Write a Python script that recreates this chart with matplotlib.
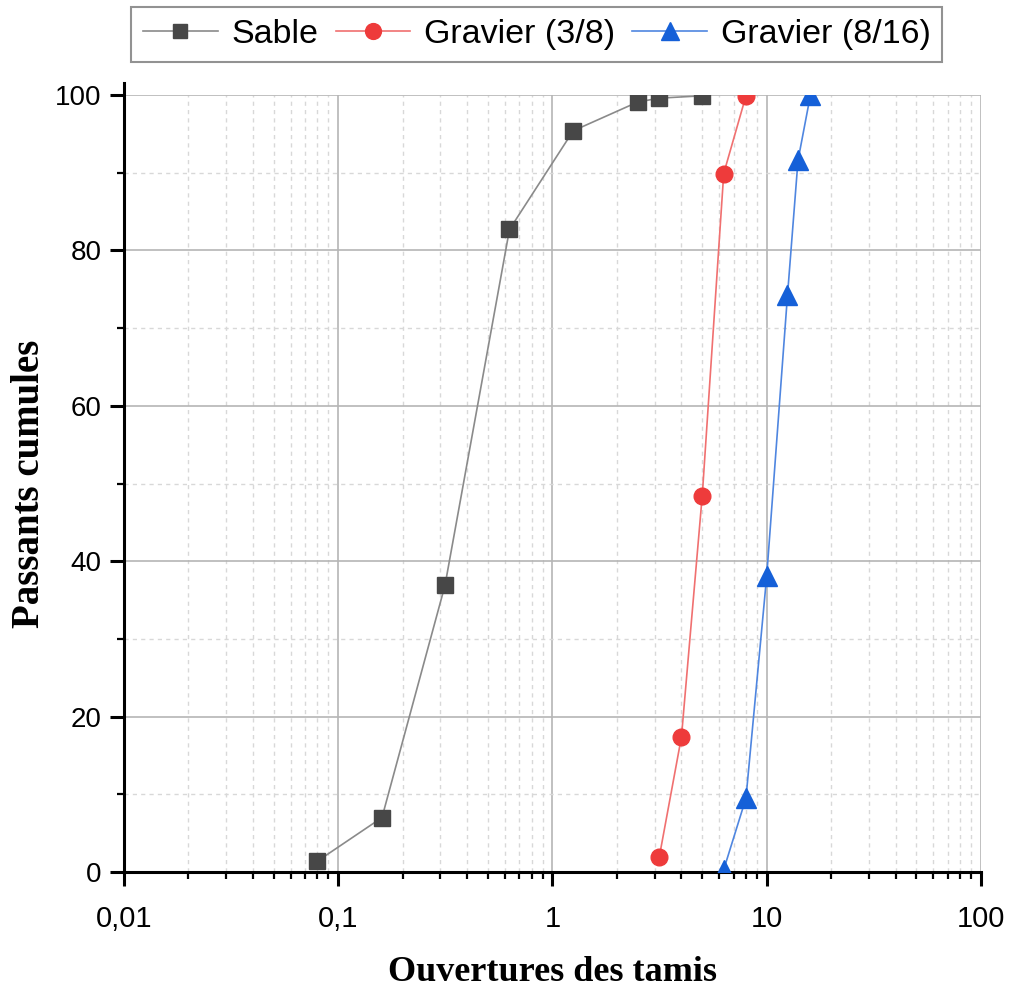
import matplotlib
matplotlib.use("Agg")
import matplotlib.pyplot as plt
from matplotlib.ticker import LogLocator, NullFormatter, MultipleLocator

sable_x = [0.08, 0.16, 0.315, 0.63, 1.25, 2.5, 3.15, 5.0]
sable_y = [1.4, 7.0, 36.9, 82.7, 95.4, 99.1, 99.6, 99.9]
g38_x = [3.15, 4.0, 5.0, 6.3, 8.0]
g38_y = [1.9, 17.4, 48.4, 89.9, 99.9]
g816_x = [6.3, 8.0, 10.0, 12.5, 14.0, 16.0]
g816_y = [0.3, 9.5, 38.1, 74.2, 91.6, 100.0]
xticks = [0.01, 0.1, 1, 10, 100]
xticklabels = ["0,01", "0,1", "1", "10", "100"]
yticks = [0, 20, 40, 60, 80, 100]

plt.rcParams['font.family'] = ['Liberation Sans', 'DejaVu Sans']
fig = plt.figure(figsize=(10.09, 9.92), dpi=100)
ax = fig.add_axes([0.1229, 0.1210, 0.8493, 0.7832])

ax.plot(sable_x, sable_y, color='#8a8a8a', lw=1.2, marker='s', ms=11,
        mfc='#474747', mec='#474747', label='Sable', zorder=3)
ax.plot(g38_x, g38_y, color='#f07070', lw=1.2, marker='o', ms=12,
        mfc='#ee3b3b', mec='#ee3b3b', label='Gravier (3/8)', zorder=3)
ax.plot(g816_x, g816_y, color='#4f86e0', lw=1.2, marker='^', ms=14,
        mfc='#1560d8', mec='#1560d8', label='Gravier (8/16)', zorder=3)

ax.set_xscale('log')
ax.set_xlim(0.01, 100)
ax.set_ylim(0, 100)
ax.set_xticks(xticks)
ax.set_xticklabels(xticklabels)
ax.xaxis.set_minor_locator(LogLocator(base=10, subs=range(2, 10)))
ax.xaxis.set_minor_formatter(NullFormatter())
ax.set_yticks(yticks)
ax.yaxis.set_minor_locator(MultipleLocator(10))

ax.grid(which='major', color='#b5b5b5', lw=1.2, ls='-')
ax.grid(which='minor', color='#d8d8d8', lw=1.0, ls=(0, (3, 3)))
ax.set_axisbelow(True)

for s in ['top', 'right']:
    ax.spines[s].set_visible(False)
for s in ['left', 'bottom']:
    ax.spines[s].set_linewidth(2.2)
ax.spines['left'].set_bounds(0, 101.5)

ax.tick_params(axis='both', which='major', direction='out', length=10, width=2.2)
ax.tick_params(axis='both', which='minor', direction='out', length=5, width=1.6)
ax.tick_params(axis='x', which='major', pad=14, labelsize=21)
ax.tick_params(axis='y', which='major', pad=6, labelsize=20)

ax.set_xlabel('Ouvertures des tamis', family='Liberation Serif', fontweight='bold',
              fontsize=26, va='baseline')
ax.xaxis.set_label_coords(0.5, -0.140)
ax.set_ylabel('Passants cumules', family='Liberation Serif', fontweight='bold',
              fontsize=28, va='center')
ax.yaxis.set_label_coords(-0.11, 0.5)

leg = fig.legend(loc='upper center', bbox_to_anchor=(0.532, 0.993), ncol=3, fontsize=24.5,
                 frameon=True, fancybox=False, edgecolor='#777777',
                 handlelength=2.2, columnspacing=0.5, handletextpad=0.4,
                 borderpad=0.35, borderaxespad=0, markerscale=0.95)
leg.get_frame().set_linewidth(1.5)

fig.savefig('out.png', dpi=100)
